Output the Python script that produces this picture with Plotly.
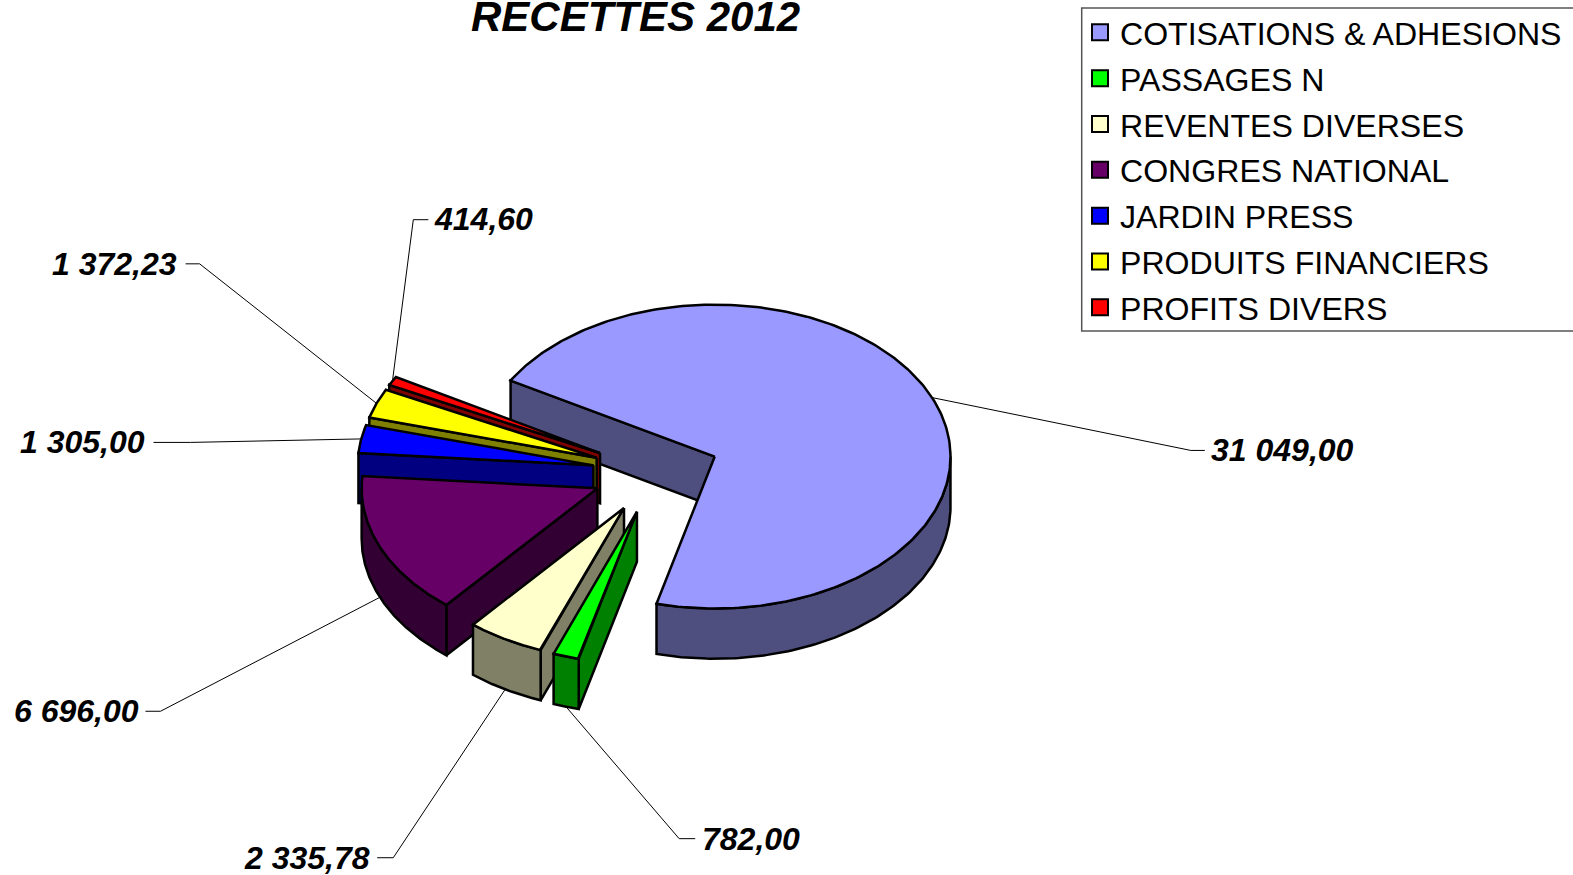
import numpy as np
import plotly.graph_objects as go

categories = ["COTISATIONS & ADHESIONS", "PASSAGES N", "REVENTES DIVERSES", "CONGRES NATIONAL",
              "JARDIN PRESS", "PRODUITS FINANCIERS", "PROFITS DIVERS"]
values = [31049.00, 782.00, 2335.78, 6696.00, 1305.00, 1372.23, 414.60]
value_labels = ["31 049,00", "782,00", "2 335,78", "6 696,00", "1 305,00", "1 372,23", "414,60"]
top_colors = ["#9999FF", "#00FF00", "#FFFFCC", "#660066", "#0000FF", "#FFFF00", "#FF0000"]
side_colors = ["#4F4F7F", "#008000", "#808066", "#330033", "#000080", "#808000", "#800000"]

# pie projection (pixels)
S = 1573 / 1568
CX, CY, RX, RY, DEPTH, EXPLODE, START = 654 * S, 471 * S, 235 * S, 151.5 * S, 50 * S, 0.27, 300.0
EDGE = 2.5
# label: (anchor x, anchor y, xanchor, elbow x, end x)
label_pos = [(1205, 449, "left", 1187, 1201), (698, 836, "left", 677, 693), (371, 855, "right", 392, 376),
             (141, 709, "right", 160, 145), (147, 441, "right", 190, 153), (178, 263, "right", 199, 185),
             (431, 218, "left", 412, 427)]
leader_depth = [False, True, True, True, False, False, False]

fig = go.Figure()


def pt(a, c, r=1.0, dz=0.0):
    t = np.radians(a)
    return c[0] + r * RX * np.sin(t), c[1] - r * RY * np.cos(t) + dz


def poly(xs, ys, color):
    fig.add_trace(go.Scatter(x=list(xs), y=list(ys), mode="lines", fill="toself", fillcolor=color,
                             line=dict(color="black", width=EDGE), hoverinfo="skip", showlegend=False))


total = sum(values)
angles = [START]
for v in values:
    angles.append(angles[-1] + v / total * 360.0)

centers, mids = [], []
for i in range(len(values)):
    mid = (angles[i] + angles[i + 1]) / 2
    mids.append(mid)
    centers.append(pt(mid, (CX, CY), EXPLODE))

# back to front
for i in [0, 6, 5, 4, 3, 2, 1]:
    a0, a1, c = angles[i], angles[i + 1], centers[i]
    # radial faces
    if np.sin(np.radians(a0)) < 0:
        p = pt(a0, c)
        poly([c[0], p[0], p[0], c[0], c[0]], [c[1], p[1], p[1] + DEPTH, c[1] + DEPTH, c[1]], side_colors[i])
    if np.sin(np.radians(a1)) > 0:
        p = pt(a1, c)
        poly([c[0], p[0], p[0], c[0], c[0]], [c[1], p[1], p[1] + DEPTH, c[1] + DEPTH, c[1]], side_colors[i])
    # outer wall, visible between 90 and 270 degrees
    for k in (-1, 0, 1):
        lo = max(a0, 90 + 360 * k)
        hi = min(a1, 270 + 360 * k)
        if hi > lo:
            aa = np.linspace(lo, hi, 120)
            xs, ys = pt(aa, c)
            poly(np.r_[xs, xs[::-1], xs[0]], np.r_[ys, ys[::-1] + DEPTH, ys[0]], side_colors[i])
    # top
    aa = np.linspace(a0, a1, 240)
    xs, ys = pt(aa, c)
    poly(np.r_[c[0], xs, c[0]], np.r_[c[1], ys, c[1]], top_colors[i])

annotations = []
for i, (lx, ly, anc, ex, fx) in enumerate(label_pos):
    sx, sy = pt(mids[i], centers[i], 1.0, DEPTH if leader_depth[i] else 0)
    fig.add_trace(go.Scatter(x=[sx, ex * S, fx * S], y=[sy, (ly + (1 if i == 6 else 0)) * S, (ly + (1 if i == 6 else 0)) * S],
                             mode="lines", line=dict(color="black", width=1), hoverinfo="skip", showlegend=False))
    annotations.append(dict(x=lx * S, y=ly * S, xref="x", yref="y", text=value_labels[i], showarrow=False, xanchor=anc,
                            yanchor="middle",
                            font=dict(family="Liberation Sans", size=32, color="black", weight=700, style="italic")))
annotations.append(dict(x=635, y=16, xref="x", yref="y", text="RECETTES 2012", showarrow=False, xanchor="center",
                        yanchor="middle",
                        font=dict(family="Liberation Sans", size=42, color="black", weight=700, style="italic")))

for i, name in enumerate(categories):
    fig.add_trace(go.Scatter(x=[None], y=[None], mode="markers", name=name, legendgroup=name,
                             marker=dict(symbol="square", size=22, color=top_colors[i],
                                         line=dict(color="black", width=2))))

fig.update_layout(
    width=1573, height=875, autosize=False, paper_bgcolor="white", plot_bgcolor="white",
    margin=dict(l=0, r=0, t=0, b=0, autoexpand=False),
    xaxis=dict(range=[0, 1573], visible=False, fixedrange=True),
    yaxis=dict(range=[875, 0], visible=False, fixedrange=True),
    annotations=annotations, showlegend=True, hovermode=False,
    shapes=[dict(type="rect", xref="x", yref="y", x0=1081.7, x1=1600, y0=8, y1=331,
                 line=dict(color="#555555", width=1.5), fillcolor="white", layer="below")],
    legend=dict(x=1080 / 1573, y=1 - 5 / 875, xanchor="left", yanchor="top", traceorder="grouped",
                bgcolor="rgba(0,0,0,0)", borderwidth=0, tracegroupgap=1.1,
                font=dict(family="Liberation Sans", size=32.1, color="black"), itemclick=False, itemdoubleclick=False),
)
fig.write_html("out.html", post_script="document.body.style.margin='0';", config={"displayModeBar": False})
